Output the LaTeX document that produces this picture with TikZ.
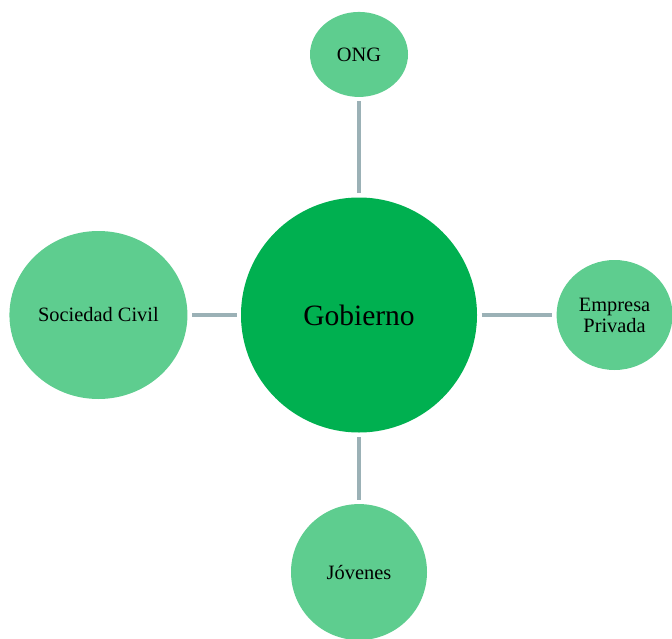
\documentclass[tikz,border=0pt]{standalone}
\usepackage{fontspec}
\setmainfont{Liberation Serif}
\usetikzlibrary{positioning, shapes.geometric}

\definecolor{gobgreen}{RGB}{0,176,80}
\definecolor{actgreen}{RGB}{94,205,143}
\definecolor{linkgray}{RGB}{155,177,182}

\begin{document}
\begin{tikzpicture}[
    % Define node styles
    central/.style={
        ellipse,
        fill=gobgreen,
        draw=none,
        inner sep=0pt,
        minimum width=5.9cm,
        minimum height=5.875cm,
        font=\fontsize{21}{24}\selectfont
    },
    actor/.style={
        ellipse,
        fill=actgreen,
        draw=none,
        inner sep=0pt,
        align=center,
        font=\fontsize{14.5}{15}\selectfont
    },
    link/.style={
        draw=linkgray,
        line width=2.2pt,
        shorten <=3pt,
        shorten >=3pt
    }
]
    \useasboundingbox (0,0) rectangle (16.8,15.95);

    % =================================================================
    % --- Central node ---
    % =================================================================
    \node[central] (gob) at (8.975, 8.075) {Gobierno};

    % =================================================================
    % --- Surrounding actors ---
    % =================================================================
    \node[actor, minimum width=2.45cm, minimum height=2.125cm, above=2.5cm of gob] (ong) {ONG};
    \node[actor, minimum width=4.45cm, minimum height=4.2cm, left=1.325cm of gob] (civil) {Sociedad Civil};
    \node[actor, minimum width=2.9cm, minimum height=2.75cm, right=1.975cm of gob] (empresa) {Empresa\\Privada};
    \node[actor, minimum width=3.4cm, minimum height=3.4cm, below=1.775cm of gob] (jovenes) {Jóvenes};

    % Connectors
    \draw[link] (gob) -- (ong);
    \draw[link] (gob) -- (civil);
    \draw[link] (gob) -- (empresa);
    \draw[link] (gob) -- (jovenes);
\end{tikzpicture}
\end{document}
